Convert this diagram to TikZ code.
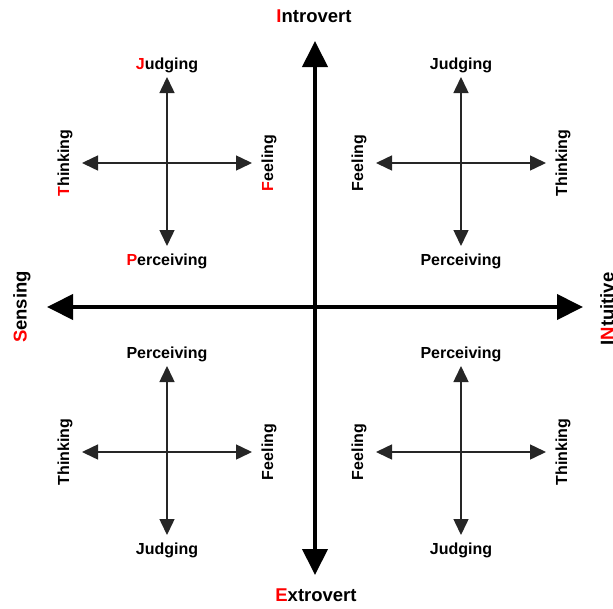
\documentclass[tikz,border=0pt]{standalone}
\usepackage{fontspec}
\setmainfont{Liberation Sans}
\usetikzlibrary{arrows.meta}
\tikzset{
  axis/.style={line width=4pt,{Triangle[length=26pt,width=25pt]}-{Triangle[length=26pt,width=25pt]}},
  pole/.style={font=\bfseries\fontsize{18.5}{19}\selectfont},
  side/.style={line width=1.5pt,black!85,{Triangle[length=16pt,width=15pt]}-{Triangle[length=16pt,width=15pt]}},
  trait/.style={font=\bfseries\fontsize{16}{17}\selectfont},
}
\newcommand{\rd}[1]{\textcolor{red}{#1}}

\begin{document}
\begin{tikzpicture}[x=1pt,y=-1pt]
  \useasboundingbox (0,0) rectangle (613,608);
  % main axes
  \coordinate (I) at (315,41);
  \coordinate (E) at (315,575);
  \coordinate (S) at (47,307);
  \coordinate (N) at (583,307);
  \draw[axis] (I) -- (E);
  \draw[axis] (S) -- (N);
  \node[pole] (intro) at (314,16) {\rd{I}ntrovert};
  \node[pole] (extro) at (316,595) {\rd{E}xtrovert};
  \node[pole,rotate=90] (sens) at (22,307) {\rd{S}ensing};
  \node[pole,rotate=90] (intu) at (607,309) {I\rd{N}tuitive};
  % quadrants
  \foreach \x/\y/\q/\up/\dn/\lf/\rt in {
    167/163/a/{\rd{J}udging}/{\rd{P}erceiving}/{\rd{T}hinking}/{\rd{F}eeling},
    461/163/b/Judging/Perceiving/Feeling/Thinking,
    167/452/c/Perceiving/Judging/Thinking/Feeling,
    461/452/d/Perceiving/Judging/Feeling/Thinking}{
    \coordinate (t\q) at (\x,\y-86);
    \coordinate (b\q) at (\x,\y+83);
    \coordinate (l\q) at (\x-85,\y);
    \coordinate (r\q) at (\x+85,\y);
    \draw[side] (t\q) -- (b\q);
    \draw[side] (l\q) -- (r\q);
    \node[trait] (up\q) at (\x,\y-98) {\up};
    \node[trait] (dn\q) at (\x,\y+98) {\dn};
    \node[trait,rotate=90] (lf\q) at (\x-102,\y) {\lf};
    \node[trait,rotate=90] (rt\q) at (\x+102,\y) {\rt};
  }
\end{tikzpicture}
\end{document}
